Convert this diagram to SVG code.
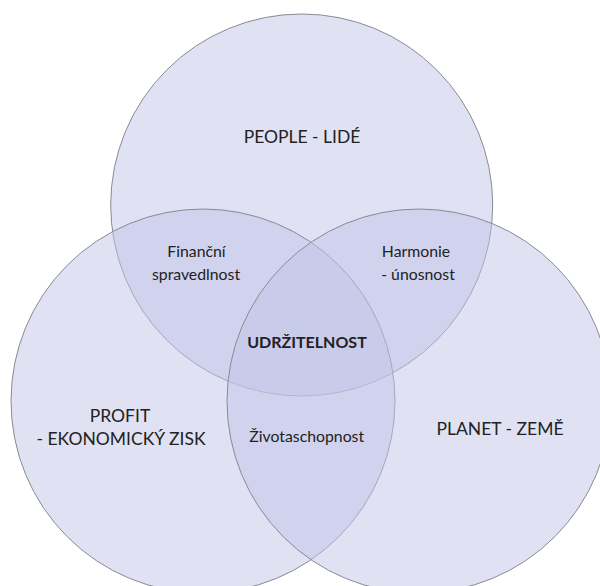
<svg xmlns="http://www.w3.org/2000/svg" width="600" height="586" viewBox="0 0 600 586">
<style>
.c{fill:rgb(193,196,232);fill-opacity:0.5;stroke:#8a8a95;stroke-width:1}
.t{font-family:Lato,"Noto Sans","Liberation Sans",sans-serif;fill:#222;text-anchor:middle}
.big{font-size:17.5px}
.sm{font-size:15.8px}
.b{font-size:16px;font-weight:bold}
</style>
<rect width="600" height="586" fill="#fff"/>
<g id="people"><circle class="c" cx="301.7" cy="205" r="191"/><text class="t big" x="302" y="143">PEOPLE - LIDÉ</text></g>
<g id="profit"><circle class="c" cx="203" cy="401" r="192"/><text class="t big" x="120" y="422">PROFIT</text><text class="t big" x="121" y="445">- EKONOMICKÝ ZISK</text></g>
<g id="planet"><circle class="c" cx="419" cy="401" r="192"/><text class="t big" x="500" y="435">PLANET - ZEMĚ</text></g>
<g id="financni"><text class="t sm" x="196.5" y="257">Finanční</text><text class="t sm" x="196" y="279.5">spravedlnost</text></g>
<g id="harmonie"><text class="t sm" x="416" y="257">Harmonie</text><text class="t sm" x="418" y="279.5">- únosnost</text></g>
<g id="zivotaschopnost"><text class="t sm" x="306.7" y="442.3">Životaschopnost</text></g>
<g id="udrzitelnost"><text class="t b" x="307" y="348">UDRŽITELNOST</text></g>
<g id="connectors"></g>
</svg>
